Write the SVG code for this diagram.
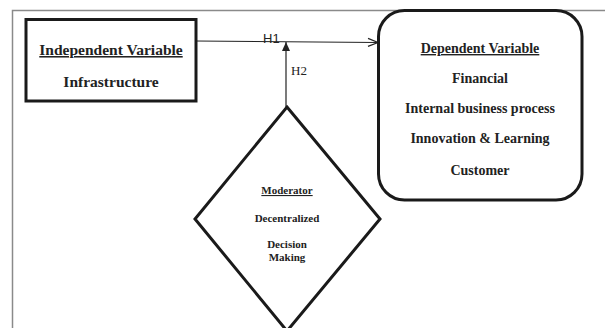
<svg xmlns="http://www.w3.org/2000/svg" width="605" height="328" viewBox="0 0 605 328">
<style>
.frame{fill:none;stroke:#8a8a8a;stroke-width:1.5}
.box{fill:#fff;stroke:#1a1a1a;stroke-width:3}
.conn{fill:none;stroke:#222;stroke-width:1.2}
.t{font-family:"Liberation Serif","Times New Roman",serif;font-weight:bold;fill:#222;text-anchor:middle}
.u{text-decoration:underline}
.lbl{font-family:"Liberation Sans",Arial,sans-serif;font-size:13px;fill:#222}
.lbls{font-family:"Liberation Serif","Times New Roman",serif;font-size:13px;fill:#222}
</style>
<defs>
<marker id="open" viewBox="0 0 12 10" refX="11" refY="5" markerWidth="12" markerHeight="10" markerUnits="userSpaceOnUse" orient="auto">
<path d="M1,1 L11,5 L1,9" fill="none" stroke="#222" stroke-width="1.2"/>
</marker>
<marker id="solid" viewBox="0 0 10 8" refX="9" refY="4" markerWidth="10" markerHeight="8" markerUnits="userSpaceOnUse" orient="auto">
<path d="M0,0 L9,4 L0,8 Z" fill="#222"/>
</marker>
</defs>
<rect width="605" height="328" fill="#fff"/>
<path class="frame" d="M12.5,328 V10.5 H605"/>
<g id="connectors">
<line class="conn" x1="196" y1="41" x2="378" y2="42.5" marker-end="url(#open)"/>
<line class="conn" x1="286" y1="107" x2="286" y2="42" marker-end="url(#solid)"/>
<text class="lbl" x="263" y="43">H1</text>
<text class="lbls" x="291" y="75">H2</text>
</g>
<g id="independent">
<rect class="box" x="26" y="19.5" width="170" height="81.5"/>
<text class="t u" x="111" y="55" font-size="15.5">Independent Variable</text>
<text class="t" x="111" y="87" font-size="15.5">Infrastructure</text>
</g>
<g id="dependent">
<rect class="box" x="378.5" y="10.5" width="203.5" height="189.5" rx="26" ry="26"/>
<text class="t u" x="480" y="53" font-size="14">Dependent Variable</text>
<text class="t" x="480" y="83" font-size="14">Financial</text>
<text class="t" x="480" y="113" font-size="14">Internal business process</text>
<text class="t" x="480" y="143" font-size="14">Innovation &amp; Learning</text>
<text class="t" x="480" y="175" font-size="14">Customer</text>
</g>
<g id="moderator">
<polygon class="box" points="287,107 380,219 287,331 195,219"/>
<text class="t u" x="287" y="194" font-size="11">Moderator</text>
<text class="t" x="287" y="222" font-size="11">Decentralized</text>
<text class="t" x="287" y="248" font-size="11">Decision</text>
<text class="t" x="287" y="261" font-size="11">Making</text>
</g>
</svg>
